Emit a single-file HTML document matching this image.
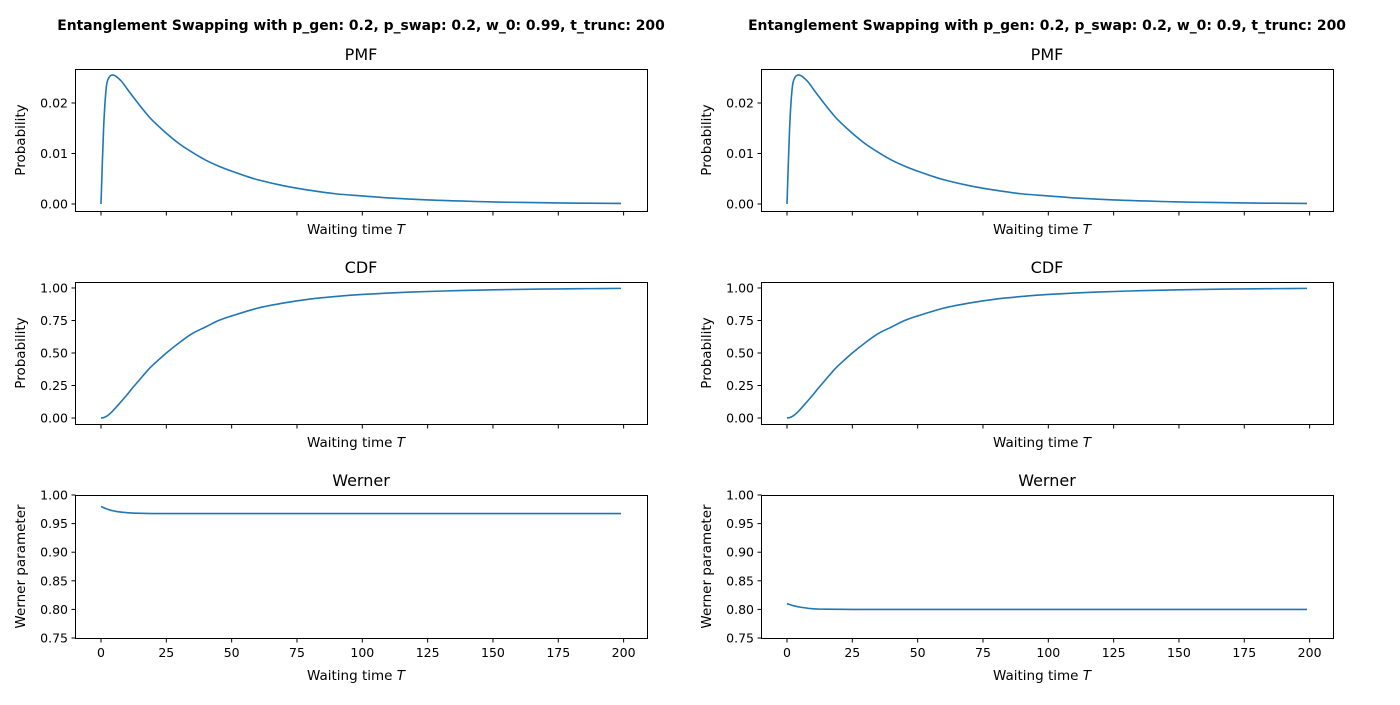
<!DOCTYPE html>
<html><head><meta charset="utf-8"><style>
body{margin:0;background:#fff;}
svg text{font-family:"DejaVu Sans","Liberation Sans",sans-serif;fill:#000;}
</style></head><body>
<svg id="c" width="1400" height="700" xmlns="http://www.w3.org/2000/svg"></svg>
<script>
const pmfT=[0,1,2,3,4,5,6,8,10,12,15,18,20,25,30,35,40,45,50,55,60,70,80,90,100,110,125,137,150,162,175,187,199];
const pmfV=[0,0.015,0.023,0.025,0.0255,0.0255,0.0252,0.0242,0.0228,0.0214,0.0194,0.0175,0.0164,0.014,0.0119,0.0102,0.0087,0.0075,0.0065,0.0056,0.0048,0.0036,0.0027,0.002,0.0016,0.0012,0.0008,0.0006,0.0004,0.0003,0.0002,0.00015,0.0001];
const cdfT=[0,1,2,3,4,5,7,10,12,15,18,20,25,30,35,40,45,50,60,70,80,90,100,112,125,137,150,162,175,187,199];
const cdfV=[0,0.003,0.012,0.026,0.044,0.065,0.11,0.18,0.23,0.3,0.37,0.41,0.5,0.58,0.65,0.7,0.75,0.785,0.845,0.885,0.915,0.935,0.95,0.963,0.973,0.98,0.986,0.99,0.993,0.995,0.997];
const wT=[0,1,2,3,4,5,6,8,10,12,15,20,25,50,100,150,199];
const wLeft=[0.98,0.978,0.976,0.9745,0.973,0.972,0.971,0.9700,0.969,0.9685,0.968,0.9676,0.9675,0.9675,0.9675,0.9675,0.9675];
const wRight=[0.81,0.8085,0.807,0.8058,0.8048,0.804,0.8033,0.802,0.801,0.8006,0.8003,0.8001,0.8,0.8,0.8,0.8,0.8];
const titles=["Entanglement Swapping with p_gen: 0.2, p_swap: 0.2, w_0: 0.99, t_trunc: 200","Entanglement Swapping with p_gen: 0.2, p_swap: 0.2, w_0: 0.9, t_trunc: 200"];
const xTicks=[0,25,50,75,100,125,150,175,200];
const pmfTicks=[0,0.01,0.02], pmfLabels=["0.00","0.01","0.02"];
const cdfTicks=[0,0.25,0.5,0.75,1], cdfLabels=["0.00","0.25","0.50","0.75","1.00"];
const wTicks=[0.75,0.8,0.85,0.9,0.95,1], wLabels=["0.75","0.80","0.85","0.90","0.95","1.00"];
const svg=document.getElementById('c');
const NS="http://www.w3.org/2000/svg";
function mk(tag,attrs,parent){const e=document.createElementNS(NS,tag);for(const k in attrs)e.setAttribute(k,attrs[k]);(parent||svg).appendChild(e);return e;}
function txt(s,x,y,size,anchor,parent,extra){const e=mk('text',Object.assign({x:x,y:y,'font-size':size,'text-anchor':anchor},extra||{}),parent);e.textContent=s;return e;}
function smooth(P){let d='M'+P[0][0].toFixed(2)+','+P[0][1].toFixed(2);
  for(let i=0;i<P.length-1;i++){const p0=P[Math.max(0,i-1)],p1=P[i],p2=P[i+1],p3=P[Math.min(P.length-1,i+2)];
    const c1=[p1[0]+(p2[0]-p0[0])/6,p1[1]+(p2[1]-p0[1])/6],c2=[p2[0]-(p3[0]-p1[0])/6,p2[1]-(p3[1]-p1[1])/6];
    d+=' C'+c1[0].toFixed(2)+','+c1[1].toFixed(2)+' '+c2[0].toFixed(2)+','+c2[1].toFixed(2)+' '+p2[0].toFixed(2)+','+p2[1].toFixed(2);}
  return d;}
function linear(P){return P.map((p,i)=>(i?'L':'M')+p[0].toFixed(2)+','+p[1].toFixed(2)).join(' ');}
const cols=[75,761], W=572;
const rows=[{top:69,h:142,ymin:-0.00139,ymax:0.02673,title:"PMF",yl:"Probability",tk:pmfTicks,tl:pmfLabels,key:"pmf"},
{top:282,h:142,ymin:-0.046,ymax:1.046,title:"CDF",yl:"Probability",tk:cdfTicks,tl:cdfLabels,key:"cdf"},
{top:495,h:143,ymin:0.75,ymax:1.0,title:"Werner",yl:"Werner parameter",tk:wTicks,tl:wLabels,key:"w"}];
cols.forEach((x0,ci)=>{
  const st=txt(titles[ci],x0+W/2,30,13.9,'middle',null,{'font-weight':'bold'});
  
  
  const xs=t=>x0+(t+9.95)/(208.95+9.95)*W;
  rows.forEach((r,ri)=>{
    const g=mk('g',{});
    
    
    const ys=v=>r.top+r.h-(v-r.ymin)/(r.ymax-r.ymin)*r.h;
    let T,V;
    if(r.key==='pmf'){T=pmfT;V=pmfV;}else if(r.key==='cdf'){T=cdfT;V=cdfV;}else{T=wT;V=ci===0?wLeft:wRight;}
    const pts=T.map((t,i)=>[xs(t),ys(V[i])]);
    const p=mk('path',{d:r.key==='w'?linear(pts):smooth(pts),fill:'none',stroke:'#1f77b4','stroke-width':1.6,'stroke-linejoin':'round'},g);
    
    
    mk('rect',{x:x0+0.5,y:r.top+0.5,width:W,height:r.h,fill:'none',stroke:'#000','stroke-width':1},g);
    xTicks.forEach(t=>{const X=xs(t);mk('line',{x1:X,x2:X,y1:r.top+r.h+0.5,y2:r.top+r.h+4.5,stroke:'#000'},g);
      if(ri===2){const l=txt(String(t),X,r.top+r.h+19,12.5,'middle',g);}});
    r.tk.forEach((v,i)=>{const Y=ys(v);mk('line',{x1:x0+0.5,x2:x0-3.5,y1:Y,y2:Y,stroke:'#000'},g);
      const l=txt(r.tl[i],x0-7,Y+4.5,12.5,'end',g);});
    const tt=txt(r.title,x0+W/2,r.top-9,16,'middle',g);
    
    const xl=txt('Waiting time ',x0+W/2-5,r.top+r.h+23+(ri===2?19:0),13.5,'middle',g);
    const ti=mk('tspan',{'font-style':'italic'},xl);ti.textContent='T';
    
    const cy=r.top+r.h/2;
    const yl=txt(r.yl,0,0,13.5,'middle',g,{transform:'translate('+(x0-50)+','+cy+') rotate(-90)'});
    
  });
});
</script>
</body></html>
